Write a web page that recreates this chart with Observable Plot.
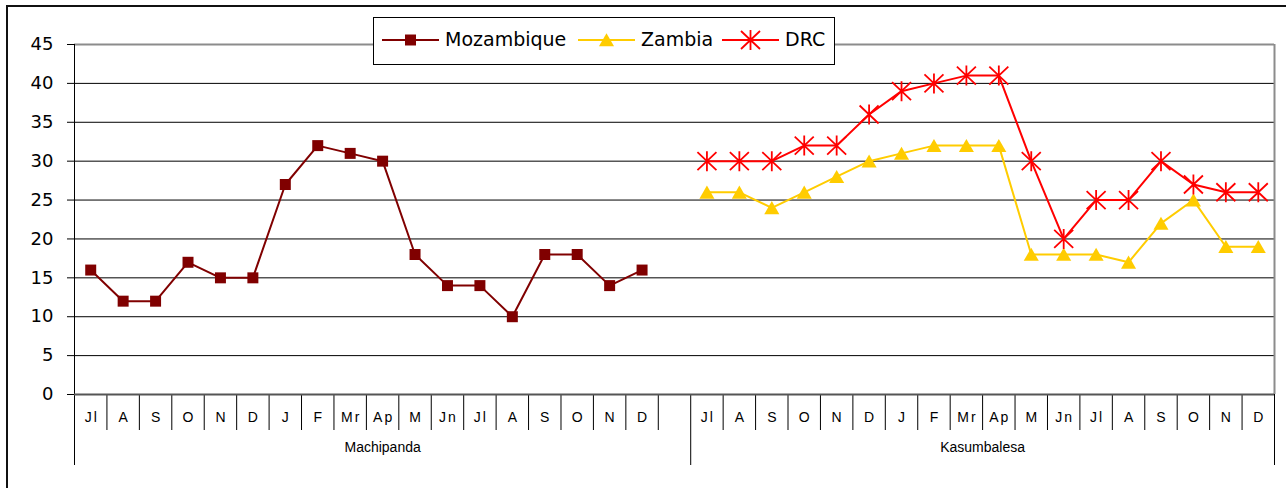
<!DOCTYPE html>
<html>
<head>
<meta charset="utf-8">
<script src="https://cdn.jsdelivr.net/npm/d3@7"></script>
<script src="https://cdn.jsdelivr.net/npm/@observablehq/plot@0.6"></script>
<style>
  html, body { margin: 0; padding: 0; background: #fff; }
  #wrap { position: relative; width: 1286px; height: 488px; overflow: hidden; background: #fff; }
  #frame { position: absolute; left: 6px; top: 5px; width: 1300px; height: 520px; border: 2px solid #111; box-sizing: border-box; }
  #chart { position: absolute; left: 0; top: 0; }
  #legend { position: absolute; left: 372px; top: 16px; }
</style>
</head>
<body>
<div id="wrap">
  <div id="frame"></div>
  <div id="chart"></div>
  <svg id="legend" width="464" height="50"></svg>
</div>
<script>
// ---- Data ----
const machipandaCategories = ["Jl","A","S","O","N","D","J","F","Mr","Ap","M","Jn","Jl","A","S","O","N","D",""];
const kasumbalesaCategories = ["Jl","A","S","O","N","D","J","F","Mr","Ap","M","Jn","Jl","A","S","O","N","D"];
const groupNames = ["Machipanda", "Kasumbalesa"];
const seriesNames = ["Mozambique", "Zambia", "DRC"];
const seriesColors = ["#800000", "#FFCC00", "#FF0000"];
const mozambique = [16,12,12,17,15,15,27,32,31,30,18,14,14,10,18,18,14,16];
const zambia     = [26,26,24,26,28,30,31,32,32,32,18,18,18,17,22,25,19,19];
const drc        = [30,30,30,32,32,36,39,40,41,41,30,20,25,25,30,27,26,26];
const yTicks = [0,5,10,15,20,25,30,35,40,45];

// ---- Build tables ----
const groupCats = [machipandaCategories, kasumbalesaCategories];
const slots = [];
const groups = [];
groupCats.forEach((cats, g) => {
  const start = slots.length;
  cats.forEach(c => slots.push({label: c, group: g, pos: slots.length + 0.5}));
  groups.push({name: groupNames[g], start, end: slots.length, center: (start + slots.length) / 2});
});
const total = slots.length;
const slotCenters = slots.map(s => s.pos);
const innerBoundaries = d3.range(1, total).filter(b => !groups.some(g => g.start === b));
const groupBoundaries = [0, ...groups.map(g => g.end)];

function rowsFor(values, groupIndex, name) {
  const start = groups[groupIndex].start;
  return values.map((v, i) => ({series: name, pos: start + i + 0.5, value: v}));
}
const mozRows = rowsFor(mozambique, 0, seriesNames[0]);
const zamRows = rowsFor(zambia, 1, seriesNames[1]);
const drcRows = rowsFor(drc, 1, seriesNames[2]);

// Excel-like star marker: vertical bar plus an X
const excelStar = {
  draw(ctx, size) {
    const r = Math.sqrt(size / Math.PI);
    const a = r * 0.95, b = r * 0.9;
    ctx.moveTo(0, -r); ctx.lineTo(0, r);
    ctx.moveTo(-a, -b); ctx.lineTo(a, b);
    ctx.moveTo(-a, b); ctx.lineTo(a, -b);
  }
};

const chart = Plot.plot({
  width: 1286,
  height: 488,
  marginLeft: 74,
  marginRight: 12,
  marginTop: 44,
  marginBottom: 94,
  style: {background: "transparent", overflow: "visible", color: "#000"},
  x: {type: "linear", domain: [0, total], axis: null},
  y: {domain: [0, 45], axis: null},
  marks: [
    Plot.ruleY(yTicks.filter(v => v > 0 && v < 45), {stroke: "#000", strokeWidth: 1}),
    Plot.ruleY([45], {stroke: "#8c8c8c", strokeWidth: 2}),
    Plot.ruleX([total], {stroke: "#8c8c8c", strokeWidth: 2}),
    Plot.axisY({ticks: yTicks, tickSize: 7, tickPadding: 14, fontSize: 18, fontFamily: "DejaVu Sans", label: null, tickFormat: d => String(d)}),
    Plot.axisX(slotCenters, {tickSize: 0, tickPadding: 18, fontSize: 14, fontFamily: "Liberation Sans", label: null,
      tickFormat: d => slots[Math.floor(d)].label}),
    Plot.axisX(innerBoundaries, {tickSize: 36, label: null, tickFormat: () => ""}),
    Plot.axisX(groupBoundaries, {tickSize: 71, label: null, tickFormat: () => ""}),
    Plot.text(groups, {x: "center", text: "name", frameAnchor: "bottom", dy: 57, fontSize: 14, fontFamily: "Liberation Sans", fill: "#000", ariaLabel: "group label"}),
    Plot.ruleX([0], {stroke: "#000", strokeWidth: 1}),
    Plot.ruleY([0], {stroke: "#555", strokeWidth: 2}),
    Plot.line(mozRows, {x: "pos", y: "value", stroke: seriesColors[0], strokeWidth: 2}),
    Plot.line(zamRows, {x: "pos", y: "value", stroke: seriesColors[1], strokeWidth: 2}),
    Plot.line(drcRows, {x: "pos", y: "value", stroke: seriesColors[2], strokeWidth: 2}),
    Plot.dot(mozRows, {x: "pos", y: "value", symbol: "square", r: 6.2, fill: seriesColors[0], stroke: "none"}),
    Plot.dot(zamRows, {x: "pos", y: "value", symbol: "triangle", r: 5.6, dy: 2, fill: seriesColors[1], stroke: "none"}),
    Plot.dot(drcRows, {x: "pos", y: "value", symbol: excelStar, r: 10, fill: "none", stroke: seriesColors[2], strokeWidth: 1.8})
  ]
});
document.getElementById("chart").appendChild(chart);

const sel = d3.select(chart);
sel.selectAll('g[aria-label="x-axis tick label"] text').attr("letter-spacing", "2px").attr("dx", 1);
sel.selectAll('g[aria-label="group label"] text').attr("letter-spacing", "1px");

// ---- Legend ----
const lg = d3.select("#legend");
lg.append("rect").attr("x", 1.5).attr("y", 1.5).attr("width", 461).attr("height", 47)
  .attr("fill", "#fff").attr("stroke", "#000").attr("stroke-width", 1);
const legendItems = [
  {x: 10, textX: 73, symbol: d3.symbolSquare, size: 6.2 * 6.2 * Math.PI, fill: true},
  {x: 206, textX: 269, symbol: d3.symbolTriangle, size: 5.6 * 5.6 * Math.PI, fill: true, dy: 2},
  {x: 350, textX: 413, symbol: excelStar, size: 10 * 10 * Math.PI, fill: false}
];
legendItems.forEach((it, i) => {
  const color = seriesColors[i];
  lg.append("line").attr("x1", it.x).attr("x2", it.x + 57).attr("y1", 24).attr("y2", 24)
    .attr("stroke", color).attr("stroke-width", 2);
  lg.append("path").attr("d", d3.symbol(it.symbol, it.size)())
    .attr("transform", `translate(${it.x + 28.5},${24 + (it.dy || 0)})`)
    .attr("fill", it.fill ? color : "none").attr("stroke", it.fill ? "none" : color).attr("stroke-width", 1.8);
  lg.append("text").attr("x", it.textX).attr("y", 30).text(seriesNames[i])
    .attr("font-family", "DejaVu Sans").attr("font-size", 19).attr("fill", "#000");
});
</script>
</body>
</html>
